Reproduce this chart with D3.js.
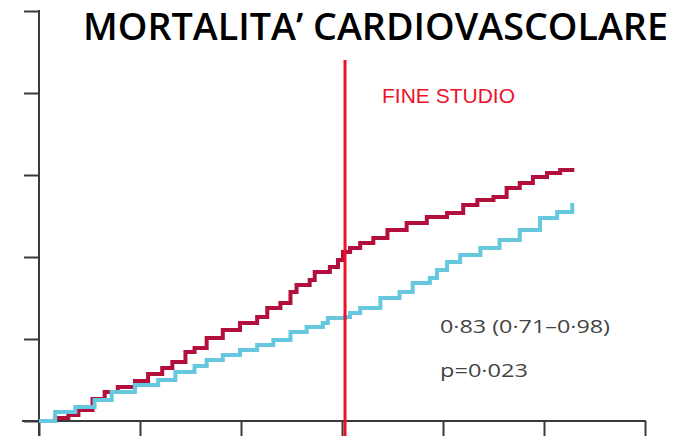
<!DOCTYPE html>
<html>
<head>
<meta charset="utf-8">
<script src="https://cdn.jsdelivr.net/npm/d3@7"></script>
<style>
  body { margin: 0; background: #fff; }
  svg { display: block; }
</style>
</head>
<body>
<div id="chart"></div>
<script>
// cumulative cardiovascular mortality (%) by year
var placeboX = [0, 0.16, 0.29, 0.39, 0.53, 0.65, 0.78, 0.95, 1.08, 1.22, 1.32, 1.45, 1.54, 1.66, 1.82, 1.99,
  2.16, 2.26, 2.39, 2.49, 2.55, 2.68, 2.73, 2.88, 2.96, 3.01, 3.08, 3.18, 3.31, 3.45, 3.64, 3.84, 4.04,
  4.20, 4.34, 4.50, 4.63, 4.76, 4.89, 5.03, 5.16, 5.28];
var placeboY = [0, 0.18, 0.37, 0.67, 1.34, 1.77, 2.07, 2.44, 2.87, 3.23, 3.60, 4.21, 4.45, 5.06, 5.55, 5.98,
  6.34, 6.89, 7.20, 7.87, 8.29, 8.60, 9.09, 9.39, 9.82, 10.30, 10.55, 10.85, 11.16, 11.65, 12.07, 12.44, 12.68,
  13.17, 13.48, 13.66, 14.21, 14.51, 14.88, 15.12, 15.30, 15.43];
var treatedX = [0, 0.16, 0.36, 0.55, 0.72, 0.95, 1.18, 1.35, 1.54, 1.66, 1.82, 1.99, 2.16, 2.32, 2.49, 2.65,
  2.81, 2.86, 3.03, 3.08, 3.18, 3.38, 3.57, 3.70, 3.87, 3.94, 4.04, 4.17, 4.37, 4.56, 4.76, 4.96, 5.13, 5.28];
var treatedY = [0, 0.55, 0.85, 1.28, 1.77, 2.20, 2.50, 2.99, 3.35, 3.72, 4.02, 4.33, 4.63, 4.94, 5.43, 5.73,
  5.98, 6.28, 6.34, 6.59, 6.89, 7.50, 7.87, 8.41, 8.72, 9.21, 9.70, 10.12, 10.55, 11.04, 11.65, 12.38, 12.74, 13.29];
var xTicks = [0, 1, 2, 3, 4, 5, 6];
var yTicks = [0, 5, 10, 15, 20, 25];
var endOfStudy = 3.03;
var titleText = "MORTALITA\u2019 CARDIOVASCOLARE";
var studyLabel = "FINE STUDIO";
var statLines = ["0\u00b783 (0\u00b771\u20130\u00b798)", "p=0\u00b7023"];
var statWidths = [170, 88];

var width = 686, height = 436;

var svg = d3.select("#chart").append("svg")
  .attr("width", width)
  .attr("height", height);

var x = d3.scaleLinear().domain([0, 6]).range([39, 645]);
var y = d3.scaleLinear().domain([0, 25]).range([421, 11]);

var axisColor = "#3a3a3a";

// y axis, ticks pointing left, line runs down past the x axis
var yAxis = svg.append("g")
  .attr("transform", `translate(${x(0)}, 0)`)
  .call(d3.axisLeft(y).tickValues(yTicks).tickSize(15).tickFormat(""));
yAxis.select(".domain").remove();
yAxis.selectAll(".tick line").attr("stroke", axisColor).attr("stroke-width", 2);
svg.append("line")
  .attr("x1", x(0)).attr("x2", x(0))
  .attr("y1", y(25) - 1).attr("y2", height)
  .attr("stroke", axisColor).attr("stroke-width", 2);

// x axis, ticks pointing down
var xAxis = svg.append("g")
  .attr("transform", `translate(0, ${y(0)})`)
  .call(d3.axisBottom(x).tickValues(xTicks).tickSize(16).tickFormat(""));
xAxis.select(".domain").remove();
xAxis.selectAll(".tick line").attr("stroke", axisColor).attr("stroke-width", 2);
svg.append("line")
  .attr("x1", 22).attr("x2", x(6) + 1)
  .attr("y1", y(0)).attr("y2", y(0))
  .attr("stroke", axisColor).attr("stroke-width", 2);

// the two step curves
var line = d3.line()
  .x(function(d) { return x(d[0]); })
  .y(function(d) { return y(d[1]); })
  .curve(d3.curveStepAfter);

svg.append("path")
  .datum(d3.zip(placeboX, placeboY))
  .attr("fill", "none")
  .attr("stroke", "#b30f3d")
  .attr("stroke-width", 4)
  .attr("d", line);

svg.append("path")
  .datum(d3.zip(treatedX, treatedY))
  .attr("fill", "none")
  .attr("stroke", "#66c8df")
  .attr("stroke-width", 4)
  .attr("d", line);

// end of study marker
svg.append("line")
  .attr("x1", x(endOfStudy)).attr("x2", x(endOfStudy))
  .attr("y1", 60).attr("y2", height)
  .attr("stroke", "#ee1127").attr("stroke-width", 3);

svg.append("text")
  .attr("x", 382).attr("y", 103)
  .attr("font-family", "Liberation Sans, Arial, sans-serif")
  .attr("font-size", "20px")
  .attr("fill", "#ee1127")
  .attr("textLength", 133)
  .attr("lengthAdjust", "spacingAndGlyphs")
  .text(studyLabel);

// title
svg.append("text")
  .attr("x", 83).attr("y", 40)
  .attr("font-family", "Open Sans, sans-serif")
  .attr("font-weight", 600)
  .attr("font-size", "37px")
  .attr("fill", "#000")
  .attr("textLength", 585)
  .attr("lengthAdjust", "spacingAndGlyphs")
  .text(titleText);

// hazard ratio and p value
svg.selectAll(".stat")
  .data(statLines)
  .enter().append("text")
  .attr("class", "stat")
  .attr("x", 440)
  .attr("y", function(d, i) { return 333 + i * 44; })
  .attr("font-family", "Open Sans, sans-serif")
  .attr("font-size", "19px")
  .attr("fill", "#444")
  .attr("textLength", function(d, i) { return statWidths[i]; })
  .attr("lengthAdjust", "spacingAndGlyphs")
  .text(function(d) { return d; });
</script>
</body>
</html>
